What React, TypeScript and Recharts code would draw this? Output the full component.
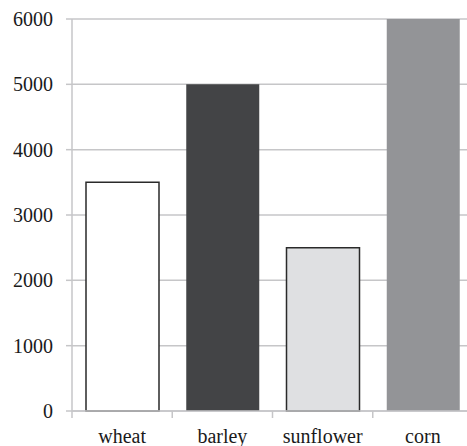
import React from 'react';
import { BarChart, Bar, XAxis, YAxis, CartesianGrid, Cell } from 'recharts';

const crops = ['wheat', 'barley', 'sunflower', 'corn'];
const harvest = [3500, 5000, 2500, 6000];
const yTicks = [0, 1000, 2000, 3000, 4000, 5000, 6000];

const fills = ['#ffffff', '#434446', '#dfe0e2', '#939497'];
const strokes = ['#2a2a2a', 'none', '#2a2a2a', 'none'];

const data = crops.map((name, i) => ({ name, value: harvest[i] }));

const GRID = '#c6c6c8';
const SERIF = '"Liberation Serif", "Times New Roman", serif';
const font = { fontFamily: SERIF, fontSize: 20, fill: '#1a1a1a' };

const CHART_W = 480;
const CHART_H = 446;
const MARGIN = { top: 19, right: 7, left: 0, bottom: 0 };
const Y_AXIS_W = 72;
const X_AXIS_H = 35;
const BAND = (CHART_W - MARGIN.right - MARGIN.left - Y_AXIS_W) / crops.length;
const AXIS_Y = CHART_H - MARGIN.bottom - X_AXIS_H;

// category label plus tick marks on the band edges
const CropTick = (props: any) => {
  const { x, y, payload } = props;
  const left = x - BAND / 2;
  return (
    <g>
      <line x1={left} x2={left} y1={AXIS_Y} y2={AXIS_Y + 7} stroke={GRID} strokeWidth={1.5} />
      <text x={x} y={y} dy="0.71em" textAnchor="middle" {...font}>
        {payload.value}
      </text>
    </g>
  );
};

const ValueTick = (props: any) => {
  const { x, y, payload } = props;
  return (
    <text x={x} y={y} dy="0.35em" textAnchor="end" {...font}>
      {payload.value}
    </text>
  );
};

export default function App() {
  return (
    <div
      style={{
        position: 'absolute',
        left: 0,
        top: 0,
        width: 467,
        height: 446,
        overflow: 'hidden',
        background: '#fff',
      }}
    >
      <BarChart width={CHART_W} height={CHART_H} data={data} margin={MARGIN}>
        <CartesianGrid vertical={false} stroke={GRID} strokeWidth={1.5} />
        <XAxis
          dataKey="name"
          height={X_AXIS_H}
          axisLine={{ stroke: GRID, strokeWidth: 1.5 }}
          tickLine={false}
          tickSize={6}
          tickMargin={12}
          tick={<CropTick />}
          interval={0}
        />
        <YAxis
          width={Y_AXIS_W}
          domain={[0, 6000]}
          ticks={yTicks}
          axisLine={{ stroke: GRID, strokeWidth: 1.5 }}
          tickLine={{ stroke: GRID, strokeWidth: 1.5 }}
          tickSize={6}
          tickMargin={13}
          tick={<ValueTick />}
          interval={0}
        />
        <Bar dataKey="value" barSize={73} isAnimationActive={false}>
          {data.map((d, i) => (
            <Cell key={d.name} fill={fills[i]} stroke={strokes[i]} strokeWidth={1.5} />
          ))}
        </Bar>
      </BarChart>
    </div>
  );
}
